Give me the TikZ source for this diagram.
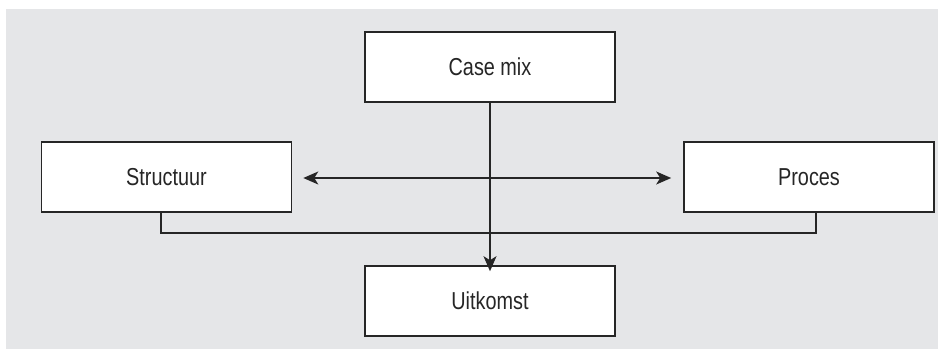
\documentclass[tikz,border=0pt]{standalone}
\usepackage{fontspec}
\setmainfont{Liberation Sans}[FakeStretch=0.81]
\usepackage{tikz}
\usetikzlibrary{arrows.meta}
\definecolor{panel}{HTML}{E5E6E8}
\definecolor{ink}{HTML}{262626}

\begin{document}
\begin{tikzpicture}[x=1pt,y=-1pt,>={Stealth[length=15pt,width=13pt,inset=4pt]},
  box/.style={rectangle,fill=white,draw=ink,line width=1.6pt,minimum width=250pt,minimum height=70pt,inner sep=0pt,text=ink,font=\fontsize{24.5}{27}\selectfont},
  link/.style={draw=ink,line width=1.4pt}]
\useasboundingbox (0,0) rectangle (938,349);
\fill[panel] (6,9) rectangle (938,349);
\node[box] (casemix) at (490,67) {Case mix};
\node[box] (structuur) at (166.5,177) {Structuur};
\node[box] (proces) at (809,177) {Proces};
\node[box] (uitkomst) at (490,301) {Uitkomst};
\coordinate (join) at (490,233);
\draw[link] ([xshift=-5.5pt]structuur.south) |- (join) -| ([xshift=7pt]proces.south);
\draw[link,<->] ([xshift=11pt,yshift=-1pt]structuur.east) -- ([xshift=-12pt,yshift=-1pt]proces.west);
\draw[link,->] (casemix) -- ([yshift=-6pt]uitkomst.north);
\end{tikzpicture}
\end{document}
